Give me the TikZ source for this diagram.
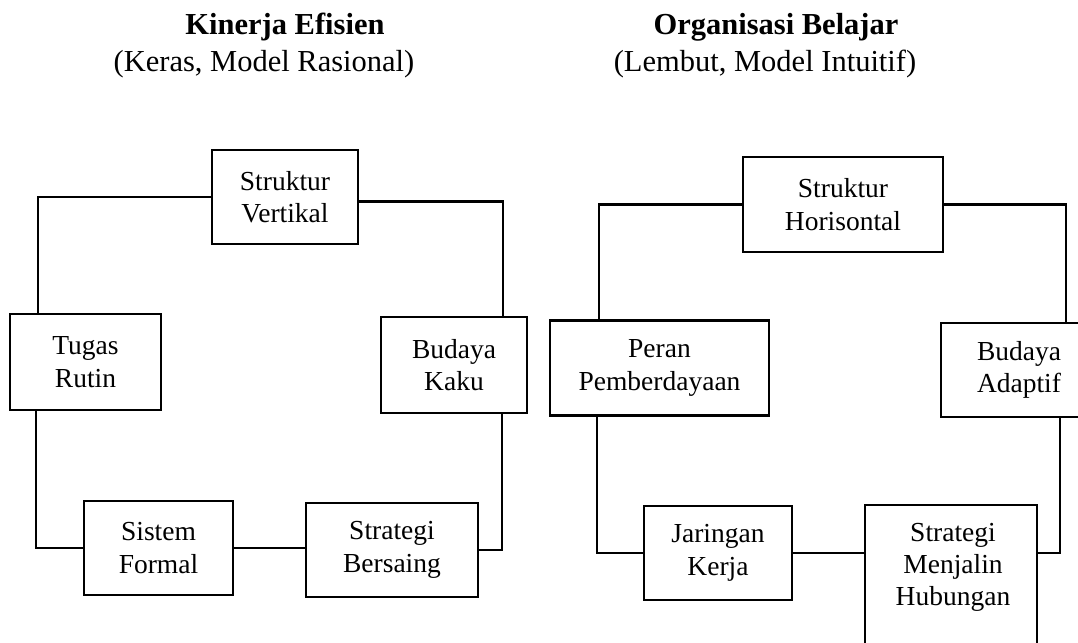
\documentclass[tikz,border=0pt]{standalone}
\usepackage{fontspec}
\setmainfont{Liberation Serif}
\begin{document}
\begin{tikzpicture}[x=1pt,y=-1pt,
  box/.style={draw=black, line width=2.3pt, align=center, inner sep=0pt,
    font=\fontsize{27.5}{32.5}\selectfont},
  conn/.style={draw=black, line width=2.3pt},
  ttl/.style={font=\fontsize{30.5}{37}\selectfont\bfseries, inner sep=0pt},
  sub/.style={font=\fontsize{30.5}{37}\selectfont, inner sep=0pt}]
\useasboundingbox (0,0) rectangle (1078,642);
\fill[white] (0,0) rectangle (1078,642);
% titles
\node[ttl] (t1) at (285,27) {Kinerja Efisien};
\node[sub] (s1) at (264,64) {(Keras, Model Rasional)};
\node[ttl] (t2) at (776,27) {Organisasi Belajar};
\node[sub] (s2) at (765,64) {(Lembut, Model Intuitif)};
% left ring
\node[box, minimum width=146pt, minimum height=94pt] (sv) at (285,197) {Struktur\\Vertikal};
\node[box, minimum width=151pt, minimum height=96pt] (tr) at (85.5,362) {Tugas\\Rutin};
\node[box, minimum width=146pt, minimum height=96pt] (bk) at (454,365) {Budaya\\Kaku};
\node[box, minimum width=149pt, minimum height=94pt] (sf) at (158.5,548) {Sistem\\Formal};
\node[box, minimum width=172pt, minimum height=94pt] (sb) at (392,550) {Strategi\\Bersaing};
\coordinate (xL1) at (38,0);
\coordinate (xR1) at (503,0);
\coordinate (xL2) at (36,0);
\coordinate (xR2) at (502,0);
\draw[conn] (sv.west) -| (tr.north -| xL1);
\draw[conn] ([yshift=-4.5pt]sv.east) -| (bk.north -| xR1);
\draw[conn] (tr.south -| xL2) |- (sf.west);
\draw[conn] (sf.east) -- (sf.east -| sb.west);
\draw[conn] (sb.east) -| (bk.south -| xR2);
% right ring
\node[box, minimum width=200pt, minimum height=95pt] (sh) at (843,204.5) {Struktur\\Horisontal};
\node[box, minimum width=219pt, minimum height=95pt] (pp) at (659.5,368) {Peran\\Pemberdayaan};
\node[box, minimum width=156pt, minimum height=94pt] (ba) at (1019,370) {Budaya\\Adaptif};
\node[box, minimum width=148pt, minimum height=94pt] (jk) at (718,553) {Jaringan\\Kerja};
\node[box, minimum width=172pt, minimum height=155pt] (smh) at (951,582.5) {};
\node[inner sep=0pt, align=center, font=\fontsize{27.5}{32}\selectfont] (smht) at (953,567) {Strategi\\Menjalin\\Hubungan};
\coordinate (xL3) at (599,0);
\coordinate (xR3) at (1066,0);
\coordinate (xL4) at (597,0);
\coordinate (xR4) at (1060,0);
\draw[conn] (sh.west) -| (pp.north -| xL3);
\draw[conn] (sh.east) -| (ba.north -| xR3);
\draw[conn] (pp.south -| xL4) |- (jk.west);
\draw[conn] (jk.east) -- (jk.east -| smh.west);
\draw[conn] (jk.east -| smh.east) -| (ba.south -| xR4);
\end{tikzpicture}
\end{document}
